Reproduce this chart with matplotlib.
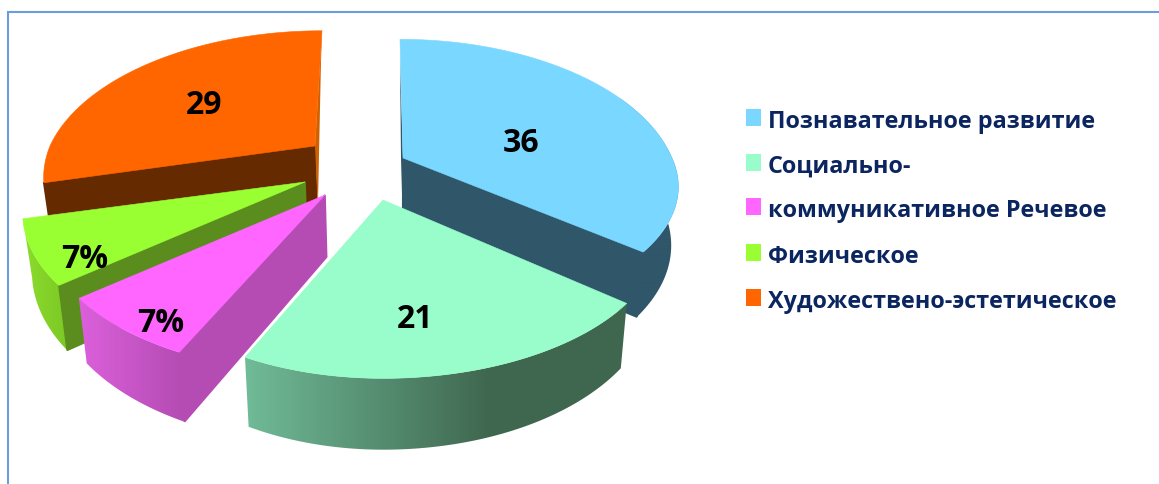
import numpy as np
import matplotlib.pyplot as plt
from matplotlib.colors import LinearSegmentedColormap
from matplotlib.patches import Polygon

# Data
values = [36, 21, 7, 7, 29]
value_labels = ['36', '21', '7%', '7%', '29']
legend_labels = ['Познавательное развитие', 'Социально-', 'коммуникативное Речевое',
                 'Физическое', 'Художествено-эстетическое']

# Slice styles
top_colors = ['#7ad7ff', '#99fccb', '#ff66ff', '#99ff33', '#ff6600']
cut_colors = ['#30566a', '#3f674f', '#b54cb4', '#5a8c1e', '#662a00']
wall_left = ['#30566a', '#70bb98', '#dc60dc', '#8cdc2c', '#d06000']
wall_right = ['#30566a', '#3f674f', '#b54cb4', '#7cc826', '#d06000']
wall_stop = [700, 490, 180, 70, 330]  # x where wall shading stops changing
apex_x = [403, 383, 325, 305, 315]
apex_y = [158, 200, 195, 182, 146]
scale_right = [1.015, 1.03, 1.0, 1.0, 1.0]
scale_left = [1.0, 0.985, 1.04, 1.04, 1.0]
scale_front = [0.91, 1.0, 1.0, 1.0, 1.0]
scale_back = [1.03, 1.0, 1.0, 1.0, 1.0]
back_shift = [-3, 0, 0, 0, 7]

label_x = [521, 415, 161, 85, 204]
label_y = [143, 319, 323, 260, 106]

RX = 265
RY = 140
PERSP = 0.215
DEPTH = 56
APEX_DEPTH = 62
LEAN = 0.025
MID_X = 390


def top_point(i, deg):
    t = np.radians(deg)
    side = np.sin(t)
    forward = -np.cos(t)
    w = 1 - PERSP * forward
    sx = scale_right[i] if side > 0 else scale_left[i]
    sy = scale_front[i] if forward > 0 else scale_back[i]
    x = apex_x[i] + sx * RX * side / w + back_shift[i] * max(0, -forward)
    y = apex_y[i] + sy * RY * forward / w
    return x, y, DEPTH / w


def lower(x, y, d):
    return x - LEAN * (x - MID_X), y + d


fig = plt.figure(figsize=(11.59, 4.84), dpi=100)
ax = fig.add_axes([0, 0, 1, 1])
ax.axis('off')

# Frame, top and left only
ax.plot([8, 8, 1159], [484, 12, 12], color='#6a9ddc', lw=1.5, solid_joinstyle='miter')

# Slice angles come from the values, clockwise from the top
ends = np.cumsum(values) / sum(values) * 360
starts = np.concatenate([[0], ends[:-1]])

# Back to front: orange, blue, lime, pink, mint
for order, i in enumerate([4, 0, 3, 2, 1]):
    z = 2 + order
    angles = np.linspace(starts[i], ends[i], 120)
    rim = [top_point(i, a) for a in angles]
    ax0, ay0 = apex_x[i], apex_y[i]
    a_low = lower(ax0, ay0, APEX_DEPTH)

    # outer wall with a horizontal gradient, clipped to the wall outline
    if i != 4:
        visible = [p for p in rim if p[1] > ay0 - 60]
        outline = [(p[0], p[1]) for p in visible] + [lower(*p) for p in visible[::-1]]
        wall = Polygon(outline, closed=True, fc='none', ec='none', transform=ax.transData)
        ax.add_patch(wall)
        x_lo = min(p[0] for p in outline)
        x_hi = max(p[0] for p in outline)
        y_lo = min(p[1] for p in outline)
        y_hi = max(p[1] for p in outline)
        stop = np.clip((wall_stop[i] - x_lo) / (x_hi - x_lo), 0.01, 1)
        cmap = LinearSegmentedColormap.from_list(
            'wall', [(0, wall_left[i]), (stop, wall_right[i]), (1, wall_right[i])])
        im = ax.imshow(np.linspace(0, 1, 256)[None, :], cmap=cmap, aspect='auto',
                       extent=[x_lo, x_hi, y_hi, y_lo], zorder=z, interpolation='bilinear')
        im.set_clip_path(wall)

    # flat cut face
    if i == 0:
        edge = rim[-1]
    elif i == 1:
        edge = None
    else:
        edge = rim[0]
    if edge is not None:
        e_low = lower(*edge)
        ax.fill([ax0, edge[0], e_low[0], a_low[0]], [ay0, edge[1], e_low[1], a_low[1]],
                color=cut_colors[i], lw=1.2, zorder=z)
    if i == 0:
        # thin dark edge along the far side of the blue slice
        first = rim[0]
        ax.fill([first[0], ax0, a_low[0], first[0] + 1], [first[1] + 18, ay0, a_low[1], ay0],
                color=cut_colors[i], lw=0, zorder=z)
    if i == 4:
        # thin sliver of the far face
        end = rim[-1]
        ax.fill([end[0], ax0, a_low[0] + 1, end[0] - 1], [end[1], ay0, a_low[1], end[1] + 30],
                color=wall_right[i], lw=0, zorder=z)

    # top face
    xs = [ax0] + [p[0] for p in rim]
    ys = [ay0] + [p[1] for p in rim]
    ax.fill(xs, ys, color=top_colors[i], lw=0.4, zorder=z)

for i in range(len(values)):
    ax.text(label_x[i], label_y[i], value_labels[i], fontsize=23, fontweight='bold',
            family='Open Sans', color='black', ha='center', va='center', zorder=20)

# Legend
legend_y = [128, 173, 217, 263, 308]
for i in range(len(legend_labels)):
    ax.fill([746, 761, 761, 746],
            [legend_y[i] - 19, legend_y[i] - 19, legend_y[i] - 2, legend_y[i] - 2],
            color=top_colors[i], lw=0)
    ax.text(768, legend_y[i], legend_labels[i], fontsize=16.8, fontweight='bold',
            family='Open Sans', color='#0b2560', ha='left', va='baseline')

ax.set_xlim(0, 1159)
ax.set_ylim(484, 0)
fig.savefig('out.png', dpi=100)
